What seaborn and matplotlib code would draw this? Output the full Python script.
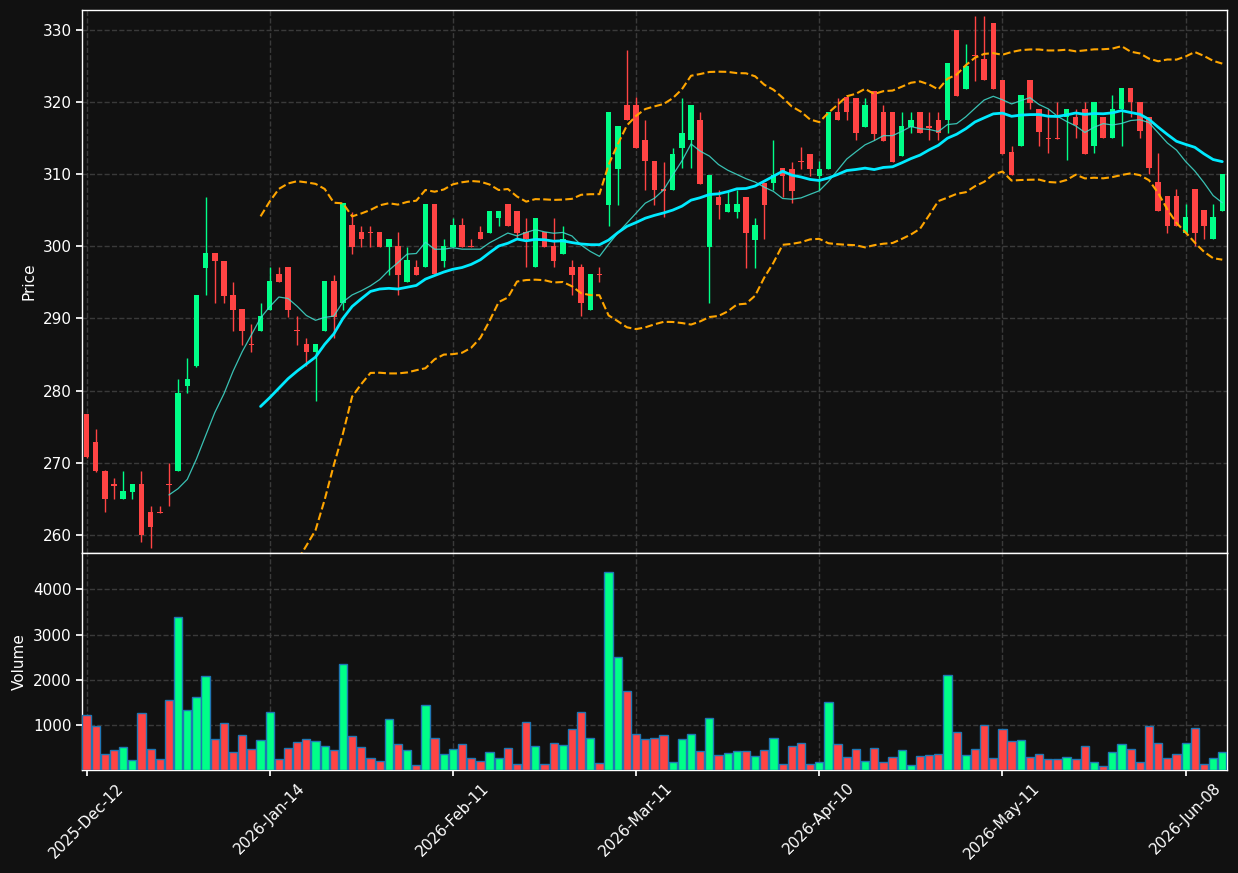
import matplotlib
matplotlib.use("Agg")
import numpy as np
import pandas as pd
import seaborn as sns
import matplotlib.pyplot as plt

# OHLC + volume, one entry per trading day (125 days)
opens = [276.7, 272.8, 268.9, 267.0, 264.9, 265.9, 267.0, 263.1, 263.2, 267.1,
         268.8, 280.6, 283.4, 297.0, 299.1, 298.0, 293.2, 291.3, 286.5, 288.3,
         291.2, 296.2, 297.2, 288.4, 286.4, 285.3, 288.3, 295.2, 292.2, 303.0,
         302.0, 302.0, 302.0, 299.9, 300.0, 295.1, 297.1, 297.1, 305.9, 298.0,
         299.9, 303.0, 300.0, 302.0, 301.9, 303.9, 305.9, 304.9, 302.0, 297.1,
         302.0, 300.0, 299.0, 297.1, 297.1, 291.2, 296.2, 305.7, 310.8, 319.6,
         319.6, 314.8, 311.8, 307.9, 307.8, 313.7, 314.7, 317.6, 299.9, 306.8,
         304.8, 304.8, 306.8, 300.9, 308.8, 308.8, 310.9, 310.8, 311.9, 312.8,
         309.8, 310.8, 318.7, 320.7, 320.6, 316.6, 321.6, 318.7, 318.7, 312.6,
         316.6, 318.7, 316.7, 317.6, 317.5, 330.0, 321.9, 326.6, 326.0, 331.0,
         323.1, 313.1, 314.0, 323.1, 319.0, 315.1, 315.1, 318.0, 318.0, 319.1,
         313.9, 318.0, 315.0, 319.0, 322.0, 320.1, 318.0, 309.0, 307.0, 307.0,
         301.9, 308.0, 305.0, 301.0, 304.9]
highs = [276.8, 274.7, 269.0, 267.9, 268.9, 267.0, 268.9, 264.0, 264.0, 269.9,
         281.6, 284.5, 293.3, 306.8, 299.1, 298.0, 295.1, 291.3, 289.3, 292.2,
         297.1, 297.1, 297.2, 290.3, 287.3, 286.4, 295.2, 296.1, 306.0, 304.8,
         302.9, 302.9, 302.0, 301.0, 302.0, 299.9, 298.1, 305.9, 305.9, 301.0,
         303.9, 303.9, 301.0, 302.9, 304.9, 304.9, 305.9, 304.9, 303.9, 303.9,
         302.0, 303.9, 302.9, 298.1, 297.5, 296.2, 297.1, 318.7, 316.7, 327.3,
         320.7, 317.6, 311.8, 311.7, 313.7, 320.6, 319.6, 318.6, 309.9, 307.8,
         307.7, 307.8, 306.8, 303.9, 308.8, 314.8, 310.9, 311.7, 313.8, 312.8,
         311.8, 318.7, 320.6, 320.7, 320.6, 320.6, 321.6, 319.6, 318.7, 318.6,
         318.6, 318.7, 318.6, 318.6, 325.4, 330.0, 328.1, 332.0, 332.0, 331.0,
         323.1, 313.9, 321.0, 323.1, 319.0, 319.0, 320.0, 319.1, 319.1, 320.0,
         320.0, 318.0, 321.0, 322.0, 322.0, 320.1, 318.0, 312.9, 307.0, 308.0,
         305.9, 308.0, 305.0, 305.9, 310.0]
lows = [270.7, 268.7, 263.1, 265.0, 264.9, 265.0, 259.0, 258.1, 263.0, 264.0,
        268.8, 279.7, 283.3, 293.2, 292.2, 292.2, 288.3, 286.3, 285.4, 288.3,
        291.2, 295.1, 290.2, 286.3, 283.4, 278.6, 288.3, 287.3, 291.2, 299.0,
        299.9, 299.9, 299.9, 296.1, 293.2, 295.1, 296.1, 297.1, 296.2, 297.1,
        299.9, 299.9, 299.9, 301.0, 301.9, 302.9, 302.9, 301.0, 297.1, 297.1,
        299.9, 297.1, 299.0, 293.2, 290.3, 291.2, 295.1, 302.9, 305.8, 317.6,
        313.7, 307.8, 305.8, 304.1, 307.8, 310.9, 310.9, 308.7, 292.2, 303.8,
        304.8, 303.9, 297.0, 297.0, 301.0, 307.8, 306.8, 306.0, 310.8, 309.8,
        307.8, 310.8, 317.6, 317.6, 314.7, 316.6, 314.8, 314.6, 311.7, 312.6,
        315.7, 315.7, 314.7, 314.7, 315.7, 320.9, 321.9, 323.0, 323.1, 321.9,
        312.8, 309.9, 314.0, 319.0, 314.0, 312.9, 314.9, 312.0, 315.0, 312.8,
        312.9, 315.0, 315.0, 313.9, 318.0, 315.0, 310.0, 304.9, 301.9, 302.9,
        301.9, 300.1, 301.0, 301.0, 304.9]
closes = [270.8, 268.8, 264.9, 266.8, 266.0, 267.0, 259.9, 261.1, 263.0, 266.9,
          279.6, 281.6, 293.2, 299.1, 298.0, 293.1, 291.2, 288.3, 286.3, 290.3,
          295.2, 295.1, 291.2, 288.2, 285.3, 286.4, 295.2, 290.2, 306.0, 299.9,
          301.0, 301.9, 299.9, 301.0, 296.1, 298.1, 296.1, 305.9, 296.2, 300.0,
          303.0, 299.9, 299.9, 301.0, 304.9, 304.9, 302.9, 301.9, 301.0, 303.9,
          299.9, 298.0, 301.0, 296.1, 292.2, 296.2, 296.0, 318.7, 316.7, 317.6,
          313.7, 311.8, 307.8, 307.7, 312.8, 315.8, 319.6, 308.7, 309.9, 305.8,
          305.9, 305.9, 301.9, 303.0, 305.7, 309.9, 309.8, 307.7, 311.7, 310.8,
          310.8, 318.7, 317.6, 318.6, 315.7, 319.6, 315.6, 314.6, 311.7, 316.7,
          317.6, 315.7, 316.5, 315.7, 325.4, 320.9, 325.1, 326.4, 323.1, 321.9,
          312.8, 309.9, 321.0, 319.9, 315.9, 314.9, 314.9, 319.1, 316.9, 312.8,
          320.0, 315.0, 319.1, 322.0, 320.0, 316.0, 310.9, 304.9, 302.9, 302.9,
          304.1, 301.9, 302.9, 304.1, 310.0]
volumes = [1221, 978, 360, 448, 514, 227, 1265, 470, 249, 1552,
           3384, 1331, 1618, 2082, 691, 1044, 404, 779, 470, 669,
           1287, 249, 492, 625, 691, 647, 536, 448, 2347, 757,
           514, 272, 205, 1132, 581, 448, 117, 1441, 713, 360,
           470, 581, 271, 205, 404, 271, 492, 139, 1066, 536,
           139, 603, 559, 912, 1287, 713, 161, 4377, 2501, 1750,
           801, 691, 713, 779, 183, 691, 801, 426, 1154, 338,
           382, 426, 426, 316, 448, 713, 139, 536, 603, 139,
           183, 1507, 580, 293, 470, 205, 492, 183, 293, 448,
           117, 316, 338, 360, 2103, 845, 338, 470, 1000, 271,
           912, 647, 669, 293, 360, 249, 249, 293, 249, 536,
           183, 95, 404, 580, 470, 183, 978, 603, 271, 360,
           603, 934, 139, 271, 404]

tick_pos = [0, 20, 40, 60, 80, 100, 120]
tick_labels = ["2025-Dec-12", "2026-Jan-14", "2026-Feb-11", "2026-Mar-11",
               "2026-Apr-10", "2026-May-11", "2026-Jun-08"]

UP = "#00ff88"
DOWN = "#ff4444"
BG = "#111111"

df = pd.DataFrame({"open": opens, "high": highs, "low": lows,
                   "close": closes, "volume": volumes})
df["i"] = np.arange(len(df))
df["up"] = df["close"] > df["open"]
df["color"] = np.where(df["up"], UP, DOWN)

# indicators (bands use population std)
df["ma10"] = df["close"].rolling(10).mean()
df["ma20"] = df["close"].rolling(20).mean()
std20 = df["close"].rolling(20).std(ddof=0)
df["bb_up"] = df["ma20"] + 2 * std20
df["bb_lo"] = df["ma20"] - 2 * std20

sns.set_theme(style="darkgrid", rc={
    "figure.facecolor": BG, "axes.facecolor": BG, "savefig.facecolor": BG,
    "axes.edgecolor": "white", "axes.labelcolor": "white",
    "text.color": "white", "xtick.color": "white", "ytick.color": "white",
    "grid.color": "#3a3a3a", "grid.linestyle": "--", "grid.linewidth": 1,
    "xtick.major.size": 4, "ytick.major.size": 4,
    "xtick.bottom": True, "ytick.left": True,
    "axes.linewidth": 1,
})
plt.rcParams["font.family"] = ["DejaVu Sans"]

fig = plt.figure(figsize=(12.38, 8.73), dpi=100)
gs = fig.add_gridspec(2, 1, height_ratios=[542, 217], hspace=0)
ax = fig.add_subplot(gs[0])
axv = fig.add_subplot(gs[1], sharex=ax)
fig.subplots_adjust(left=0.0662, right=0.991, top=0.9885, bottom=0.118)

# candles
ax.vlines(df["i"], df["low"], df["high"], colors=df["color"], linewidth=1, zorder=3)
body = (df["close"] - df["open"]).abs().clip(lower=0.12)
bottom = df[["open", "close"]].min(axis=1)
ax.bar(df["i"], body, bottom=bottom, width=0.6, color=df["color"], linewidth=0, zorder=4)

# moving averages and bands
sns.lineplot(data=df, x="i", y="ma10", ax=ax, color="#40e0d0", linewidth=0.9, alpha=0.85, zorder=5)
sns.lineplot(data=df, x="i", y="ma20", ax=ax, color="#00eaff", linewidth=2, zorder=6)
sns.lineplot(data=df, x="i", y="bb_up", ax=ax, color="orange", linewidth=1.5, linestyle="--", zorder=5)
sns.lineplot(data=df, x="i", y="bb_lo", ax=ax, color="orange", linewidth=1.5, linestyle="--", zorder=5)

ax.set_xlim(-0.5, len(df) - 0.5)
ax.set_ylim(257.5, 332.8)
ax.set_ylabel("Price", fontsize=11)
ax.set_xlabel("")
ax.tick_params(axis="x", labelbottom=False, length=0)
ax.tick_params(axis="y", labelsize=11)
ax.grid(True)

# volume
axv.bar(df["i"], df["volume"], width=0.9, color=df["color"],
        edgecolor="#1f77b4", linewidth=1, zorder=3)
axv.set_ylim(0, max(volumes) * 1.1)
axv.set_yticks([1000, 2000, 3000, 4000])
axv.set_ylabel("Volume", fontsize=11)
axv.set_xticks(tick_pos)
axv.set_xticklabels(tick_labels, rotation=45, fontsize=11)
axv.tick_params(axis="y", labelsize=11)
axv.grid(True)

for a in (ax, axv):
    for s in a.spines.values():
        s.set_color("white")
        s.set_linewidth(1)

fig.savefig("out.png", dpi=100)
